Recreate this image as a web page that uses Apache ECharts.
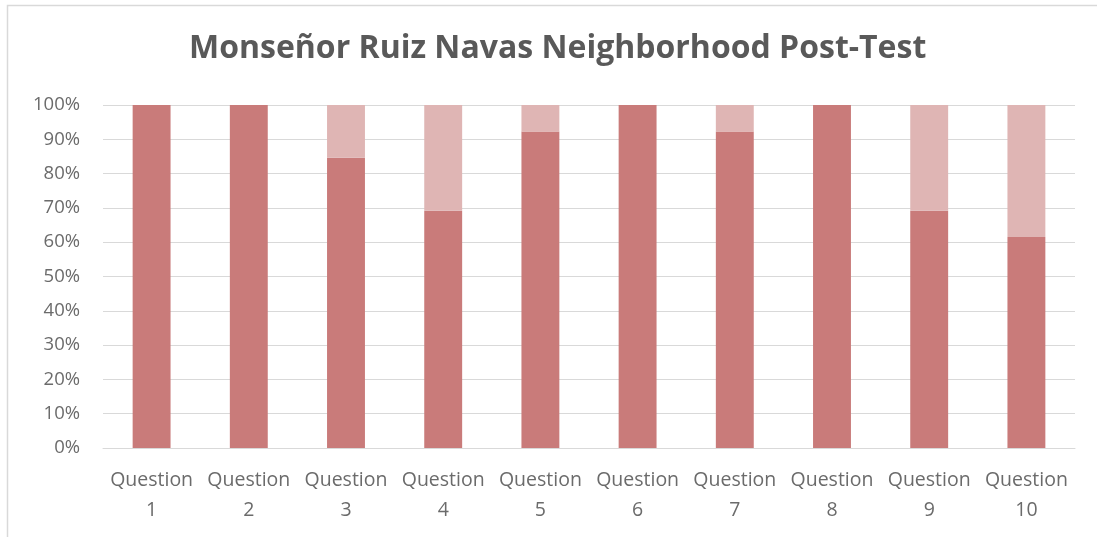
<!DOCTYPE html>
<html>
<head>
<meta charset="utf-8">
<script src="https://cdn.jsdelivr.net/npm/echarts@6/dist/echarts.min.js"></script>
<style>
html,body{margin:0;padding:0;background:#fff;}
#chart{width:1097px;height:537px;}
</style>
</head>
<body>
<div id="chart"></div>
<script>
const categories = ['Question\n1','Question\n2','Question\n3','Question\n4','Question\n5','Question\n6','Question\n7','Question\n8','Question\n9','Question\n10'];
const correct = [100, 100, 84.6, 69.2, 92.3, 100, 92.3, 100, 69.2, 61.5];
const incorrect = [0, 0, 15.4, 30.8, 7.7, 0, 7.7, 0, 30.8, 38.5];
const yTicks = [0,10,20,30,40,50,60,70,80,90,100];

const chart = echarts.init(document.getElementById('chart'));
chart.setOption({
  animation:false,
  title:{
    text:'Monseñor Ruiz Navas Neighborhood Post-Test',
    left:184, top:28,
    textStyle:{fontFamily:'Open Sans, sans-serif', fontWeight:'bold', fontSize:32, color:'#595959'}
  },
  graphic:[{type:'rect', shape:{x:7.5,y:5.5,width:1100,height:540}, style:{fill:'none', stroke:'#d9d9d9', lineWidth:1.5}, silent:true}],
  grid:{left:103, right:22, top:105, bottom:89},
  xAxis:{
    type:'category', data:categories,
    axisLine:{lineStyle:{color:'#d9d9d9'}},
    axisTick:{show:false},
    axisLabel:{color:'#6b6b6b', fontSize:19.5, fontFamily:'Open Sans, sans-serif', lineHeight:30, margin:17, interval:0}
  },
  yAxis:{
    type:'value', min:0, max:100, interval:10,
    axisLabel:{formatter:v=>yTicks.includes(v)?v+'%':'', color:'#6b6b6b', fontSize:18.5, fontFamily:'Open Sans, sans-serif', margin:23},
    splitLine:{lineStyle:{color:'#d9d9d9', width:1}},
    axisLine:{show:false}, axisTick:{show:false}
  },
  series:[
    {name:'Correct', type:'bar', stack:'a', data:correct, barWidth:'39%', itemStyle:{color:'#C97B7A'}},
    {name:'Incorrect', type:'bar', stack:'a', data:incorrect, barWidth:'39%', itemStyle:{color:'#DFB5B4'}}
  ]
});
</script>
</body>
</html>
